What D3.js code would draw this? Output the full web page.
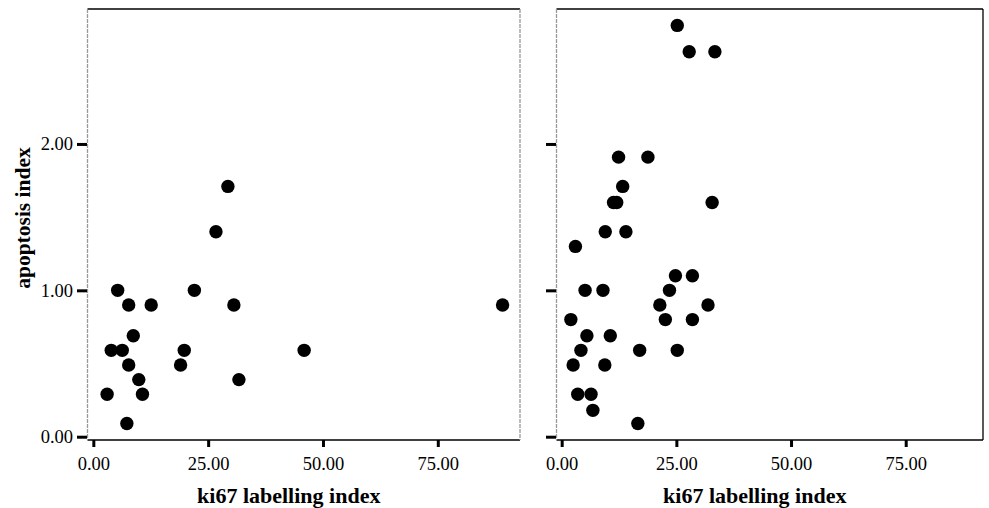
<!DOCTYPE html>
<html>
<head>
<meta charset="utf-8">
<script src="https://cdn.jsdelivr.net/npm/d3@7"></script>
<style>
  body { margin: 0; background: #fff; }
  svg { display: block; font-family: "Liberation Serif", "Times New Roman", serif; }
</style>
</head>
<body>
<div id="chart"></div>
<script>
// left panel values
const leftKi67 = [29.3, 26.7, 5.3, 7.7, 12.6, 22.0, 30.6, 8.7, 3.9, 6.3, 7.7, 19.0, 19.8, 45.9, 9.9, 31.7, 3.0, 10.7, 7.3, 89.1];
const leftApop = [1.71, 1.40, 1.0, 0.9, 0.9, 1.0, 0.9, 0.69, 0.59, 0.59, 0.49, 0.49, 0.59, 0.59, 0.39, 0.39, 0.29, 0.29, 0.09, 0.9];

// right panel values
const rightKi67 = [25.2, 27.8, 33.4, 12.4, 18.8, 13.3, 11.3, 12.0, 32.8, 9.5, 14.0, 3.0, 5.1, 9.0, 24.8, 28.5, 23.5, 21.4, 31.9, 2.0, 22.6, 28.5, 5.5, 10.6, 4.2, 17.0, 25.2, 2.5, 9.4, 3.5, 6.4, 6.8, 16.6];
const rightApop = [2.81, 2.63, 2.63, 1.91, 1.91, 1.71, 1.6, 1.6, 1.6, 1.4, 1.4, 1.3, 1.0, 1.0, 1.1, 1.1, 1.0, 0.9, 0.9, 0.8, 0.8, 0.8, 0.69, 0.69, 0.59, 0.59, 0.59, 0.49, 0.49, 0.29, 0.29, 0.18, 0.09];

const xTicks = [0, 25, 50, 75];
const yTicks = [0, 1, 2];
const xTitle = "ki67 labelling index";
const yTitle = "apoptosis index";

const width = 989, height = 508;
const plotTop = 9, plotBottom = 440;

const svg = d3.select("#chart").append("svg")
    .attr("width", width)
    .attr("height", height);

const y = d3.scaleLinear().domain([-0.0225, 2.922]).range([plotBottom, plotTop]);

const panels = [
    { xs: leftKi67, ys: leftApop, x0: 87.5, x1: 520, dom: [-1.27, 92.9], labels: true, rightBorder: "#999" },
    { xs: rightKi67, ys: rightApop, x0: 556.5, x1: 983, dom: [-1.13, 91.85], labels: false, rightBorder: "#000" }
];

panels.forEach(p => {
    const x = d3.scaleLinear().domain(p.dom).range([p.x0, p.x1]);
    const g = svg.append("g");

    // frame
    g.append("line").attr("x1", p.x0).attr("x2", p.x1).attr("y1", plotTop).attr("y2", plotTop)
        .attr("stroke", "#000").attr("stroke-width", 1.3);
    g.append("line").attr("x1", p.x0).attr("x2", p.x1).attr("y1", plotBottom).attr("y2", plotBottom)
        .attr("stroke", "#000").attr("stroke-width", 1.5);
    g.append("line").attr("x1", p.x0).attr("x2", p.x0).attr("y1", plotTop).attr("y2", plotBottom)
        .attr("stroke", "#999").attr("stroke-width", 1.3).attr("stroke-dasharray", "4,1");
    g.append("line").attr("x1", p.x1).attr("x2", p.x1).attr("y1", plotTop).attr("y2", plotBottom)
        .attr("stroke", p.rightBorder).attr("stroke-width", 1.3)
        .attr("stroke-dasharray", p.rightBorder === "#000" ? null : "4,1");

    // x axis
    const xAxis = g.append("g")
        .attr("transform", `translate(0,${plotBottom})`)
        .call(d3.axisBottom(x).tickValues(xTicks).tickSize(7).tickPadding(10).tickFormat(d3.format(".2f")));
    xAxis.select(".domain").remove();
    xAxis.selectAll(".tick line").attr("stroke", "#000").attr("stroke-width", 3);
    xAxis.selectAll(".tick text").attr("font-size", 18.5).attr("fill", "#000")
        .attr("font-family", "Liberation Serif, serif");

    // y axis
    const yAxis = g.append("g")
        .attr("transform", `translate(${p.x0 - 0.5},0)`)
        .call(d3.axisLeft(y).tickValues(yTicks).tickSize(10).tickPadding(4)
            .tickFormat(p.labels ? d3.format(".2f") : ""));
    yAxis.select(".domain").remove();
    yAxis.selectAll(".tick line").attr("stroke", "#000").attr("stroke-width", 3);
    yAxis.selectAll(".tick text").attr("font-size", 18.5).attr("fill", "#000")
        .attr("font-family", "Liberation Serif, serif");

    // points
    g.append("g").selectAll("circle")
        .data(d3.zip(p.xs, p.ys))
        .join("circle")
        .attr("cx", d => x(d[0]))
        .attr("cy", d => y(d[1]))
        .attr("r", 6.7)
        .attr("fill", "#000");

    // x title
    g.append("text")
        .attr("x", (p.x0 + p.x1) / 2 - 15)
        .attr("y", 503)
        .attr("text-anchor", "middle")
        .attr("font-size", 22)
        .attr("font-weight", "bold")
        .text(xTitle);
});

// y title
svg.append("text")
    .attr("transform", "translate(30,218) rotate(-90)")
    .attr("text-anchor", "middle")
    .attr("font-size", 21.5)
    .attr("font-weight", "bold")
    .text(yTitle);
</script>
</body>
</html>
